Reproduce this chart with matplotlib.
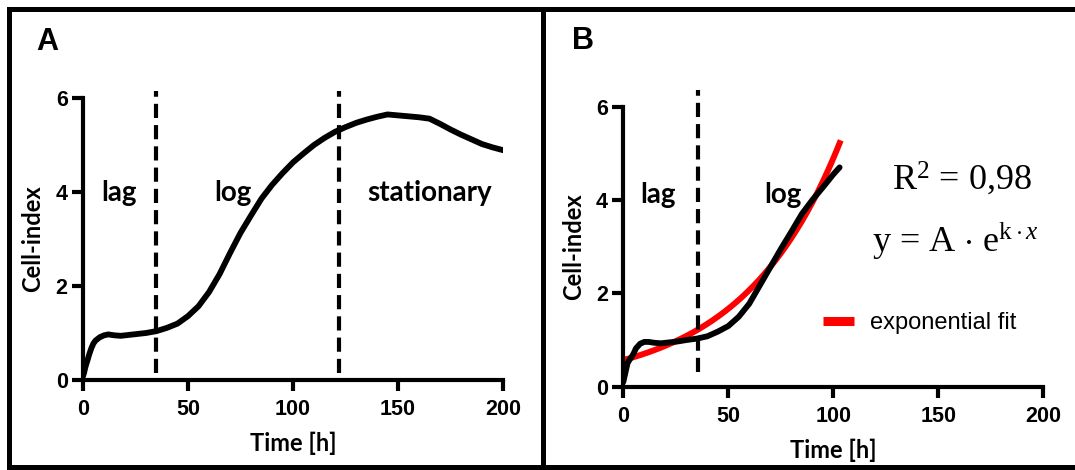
import numpy as np
import matplotlib
matplotlib.use("Agg")
import matplotlib.pyplot as plt
from matplotlib.lines import Line2D

# ---------------- data ----------------
time_a = [0, 0.5, 1, 1.5, 2, 3, 4, 5, 6, 8, 10, 12, 15, 18, 22, 26, 30, 35, 40, 45,
          50, 55, 60, 65, 70, 75, 80, 85, 90, 95, 100, 105, 110, 115, 120, 125, 130,
          135, 140, 145, 150, 155, 160, 165, 170, 175, 180, 185, 190, 195, 200]
cell_a = [0.08, 0.15, 0.25, 0.33, 0.40, 0.55, 0.68, 0.78, 0.84, 0.91, 0.95, 0.97, 0.95,
          0.94, 0.96, 0.98, 1.00, 1.04, 1.11, 1.20, 1.36, 1.57, 1.87, 2.25, 2.70, 3.13,
          3.50, 3.86, 4.15, 4.40, 4.63, 4.82, 5.00, 5.15, 5.28, 5.38, 5.47, 5.54, 5.60,
          5.65, 5.63, 5.61, 5.59, 5.56, 5.45, 5.33, 5.22, 5.12, 5.02, 4.95, 4.89]

time_b = [0, 0.5, 1, 1.5, 2, 3, 4, 5, 6, 8, 10, 12, 15, 18, 22, 26, 30, 35, 40, 45,
          50, 55, 60, 65, 70, 75, 80, 85, 90, 95, 100, 103]
cell_b = [0.10, 0.20, 0.30, 0.40, 0.50, 0.58, 0.64, 0.72, 0.82, 0.92, 0.96, 0.96, 0.94,
          0.93, 0.95, 0.97, 1.00, 1.03, 1.08, 1.18, 1.30, 1.50, 1.78, 2.17, 2.56, 2.95,
          3.32, 3.70, 4.00, 4.27, 4.55, 4.70]

# exponential fit y = A * exp(k * x)
fit_A = 0.57
fit_k = 0.0215
fit_range = (0, 103)

phase_lines_a = [34.8, 122]
phase_lines_b = [35.7]
phase_labels_a = [("lag", 17.3), ("log", 71.3), ("stationary", 165)]
phase_labels_b = [("lag", 16.7), ("log", 75.8)]

xticks = [0, 50, 100, 150, 200]
yticks = [0, 2, 4, 6]

# ---------------- figure ----------------
W, H = 1075, 470
fig = plt.figure(figsize=(W / 100, H / 100), dpi=100)

label_font = ['Lato', 'DejaVu Sans']
tick_font = ['Liberation Sans', 'DejaVu Sans']
plt.rcParams['mathtext.fontset'] = 'custom'
plt.rcParams['mathtext.rm'] = 'Liberation Serif'
plt.rcParams['mathtext.it'] = 'Liberation Serif:italic'
plt.rcParams['mathtext.bf'] = 'Liberation Serif:bold'

def px(x0, y0, w, h):
    return [x0 / W, 1 - (y0 + h) / H, w / W, h / H]

ax_a = fig.add_axes(px(83, 98, 420, 282))
ax_b = fig.add_axes(px(623.3, 106.7, 420, 280))

def style(ax):
    ax.set_xlim(0, 200)
    ax.set_ylim(0, 6)
    for s in ['top', 'right']:
        ax.spines[s].set_visible(False)
    for s in ['left', 'bottom']:
        ax.spines[s].set_linewidth(3)
        ax.spines[s].set_capstyle('projecting')
    ax.set_xticks(xticks)
    ax.set_yticks(yticks)
    ax.tick_params(axis='both', length=8, width=3, labelsize=15.5)
    ax.tick_params(axis='x', pad=6)
    ax.tick_params(axis='y', pad=3)
    for lab in ax.get_xticklabels() + ax.get_yticklabels():
        lab.set_fontfamily(tick_font)
        lab.set_fontweight('bold')
    ax.set_xlabel('Time [h]', fontfamily=label_font, fontweight='bold', fontsize=17, labelpad=8)
    ax.set_ylabel('Cell-index', fontfamily=label_font, fontweight='bold', fontsize=17, labelpad=8)
    ax.patch.set_alpha(0)

style(ax_a)
style(ax_b)

# Panel A
ax_a.plot(time_a, cell_a, color='black', lw=4.2, solid_capstyle='round', solid_joinstyle='round', zorder=3)
for xv in phase_lines_a:
    ax_a.plot([xv, xv], [0.15, 6.15], color='black', lw=3, dashes=(3.4, 1.7), clip_on=False, zorder=2)
for txt, xv in phase_labels_a:
    ax_a.text(xv, 3.8, txt, ha='center', va='baseline', fontfamily=label_font,
              fontweight='bold', fontsize=20)

# Panel B
t_fit = np.linspace(fit_range[0], fit_range[1], 200)
ax_b.plot(t_fit, fit_A * np.exp(fit_k * t_fit), color='#ff0000', lw=4.3, zorder=2,
          label='exponential fit')
ax_b.plot(time_b, cell_b, color='black', lw=4.2, solid_capstyle='round', solid_joinstyle='round', zorder=3)
for xv in phase_lines_b:
    ax_b.plot([xv, xv], [0.32, 6.35], color='black', lw=3, dashes=(3.4, 1.7), clip_on=False, zorder=4)
for txt, xv in phase_labels_b:
    ax_b.text(xv, 3.93, txt, ha='center', va='baseline', fontfamily=label_font,
              fontweight='bold', fontsize=20)

leg = ax_b.legend(loc='center left', bbox_to_anchor=((823 - 623.3) / 420, (386.7 - 323) / 280),
                  frameon=False, borderpad=0, borderaxespad=0, handlelength=1.3,
                  handletextpad=0.7, prop={'family': ['Liberation Sans'], 'size': 17})
for ln in leg.get_lines():
    ln.set_linewidth(6.5)
    ln.set_solid_capstyle('butt')

eq_font = ['Liberation Serif', 'DejaVu Serif']
fig.text(891.7 / W, 1 - 190 / H, r'R$^{2}$ = 0,98', fontsize=26, fontfamily=eq_font,
         ha='left', va='baseline')
fig.text(871.7 / W, 1 - 251.7 / H, r'y = A $\cdot$ e$^{\mathrm{k}\cdot\mathit{x}}$',
         fontsize=26, fontfamily=eq_font, ha='left', va='baseline')

# panel letters
fig.text(36.7 / W, 1 - 50 / H, 'A', fontsize=22, fontweight='bold', fontfamily=tick_font,
         ha='left', va='baseline')
fig.text(571.7 / W, 1 - 49.3 / H, 'B', fontsize=22, fontweight='bold', fontfamily=tick_font,
         ha='left', va='baseline')

# frame
frame_kw = dict(color='black', lw=3.6, transform=fig.transFigure, solid_capstyle='projecting')
fig.add_artist(Line2D([9 / W, 1], [1 - 8.5 / H, 1 - 8.5 / H], **frame_kw))
fig.add_artist(Line2D([9 / W, 1], [1 - 467 / H, 1 - 467 / H], **frame_kw))
fig.add_artist(Line2D([9 / W, 9 / W], [1 - 8.5 / H, 1 - 467 / H], **frame_kw))
fig.add_artist(Line2D([543.3 / W, 543.3 / W], [1 - 8.5 / H, 1 - 467 / H], **frame_kw))

fig.savefig('out.png', dpi=100)
